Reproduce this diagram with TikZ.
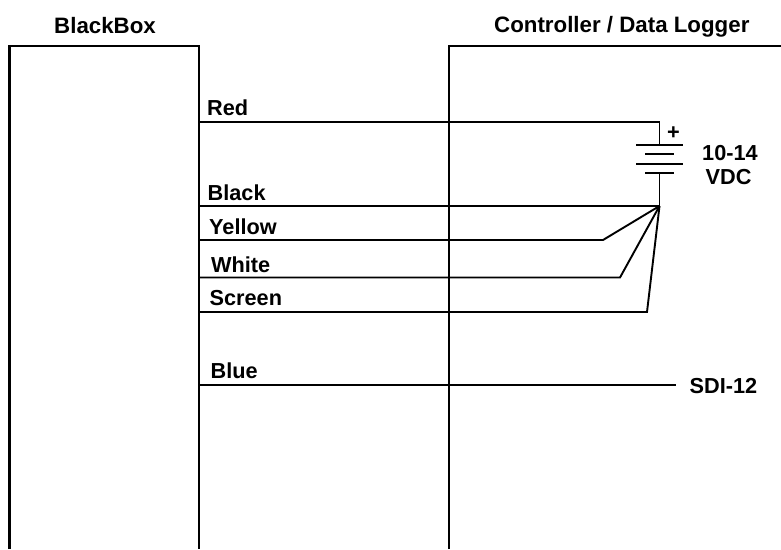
\documentclass[tikz,border=0pt]{standalone}
\usepackage{fontspec}
\setmainfont{Liberation Sans}
\tikzset{
  wire/.style={line width=1.9pt,black,line join=miter},
  boxline/.style={line width=2.4pt,black,line join=miter},
  plate/.style={line width=1.5pt,black},
  lbl/.style={font=\fontsize{21.7}{24}\selectfont\bfseries,inner sep=0pt,anchor=base west,align=left},
  ttl/.style={lbl,font=\fontsize{22.3}{24}\selectfont\bfseries}
}
\begin{document}
\begin{tikzpicture}[x=1pt,y=-1pt]
\useasboundingbox (0,0) rectangle (781,549);
\fill[white] (0,0) rectangle (781,549);
% boxes (open at the bottom)
\draw[boxline] (9.5,549) -- (9.5,46) -- (199,46) -- (199,549);
\draw[boxline] (449,549) -- (449,46) -- (781,46);
% titles
\node[ttl] (tbb) at (54,33.5) {BlackBox};
\node[ttl] (tcd) at (494,32.7) {Controller / Data Logger};
% anchors
\coordinate (redL) at (199,122);
\coordinate (redC) at (659.5,122);
\coordinate (p1) at (659.5,145);
\coordinate (p4) at (659.5,173);
\coordinate (junc) at (659.5,206);
\coordinate (blackL) at (199,206);
\coordinate (yelL) at (199,240);
\coordinate (yelB) at (603,240);
\coordinate (whiL) at (199,277.5);
\coordinate (whiB) at (620,277.5);
\coordinate (scrL) at (199,312);
\coordinate (scrB) at (647,312);
\coordinate (bluL) at (199,385);
\coordinate (bluR) at (676,385);
% wires
\draw[wire] (redL) -- (redC) -- (p1);
\draw[wire] (p4) -- (junc) -- (blackL);
\draw[wire] (yelL) -- (yelB) -- (junc);
\draw[wire] (whiL) -- (whiB) -- (junc);
\draw[wire] (scrL) -- (scrB) -- (junc);
\draw[wire] (bluL) -- (bluR);
% battery plates
\draw[plate] (636,145) -- (682.5,145);
\draw[plate] (645,154) -- (673.5,154);
\draw[plate] (636,164) -- (682.5,164);
\draw[plate] (645,173) -- (673.5,173);
% labels
\node[lbl] (plus) at (667,139) {+};
\node[lbl] (v1) at (702,160) {10-14};
\node[lbl] (v2) at (705.5,184) {VDC};
\node[lbl] (red) at (207,115.7) {Red};
\node[lbl] (black) at (207.5,200.7) {Black};
\node[lbl] (yellow) at (209,234) {Yellow};
\node[lbl] (white) at (211,272.7) {White};
\node[lbl] (screen) at (209.5,305) {Screen};
\node[lbl] (blue) at (210.5,378) {Blue};
\node[lbl] (sdi) at (689.5,393) {SDI-12};
\end{tikzpicture}
\end{document}
